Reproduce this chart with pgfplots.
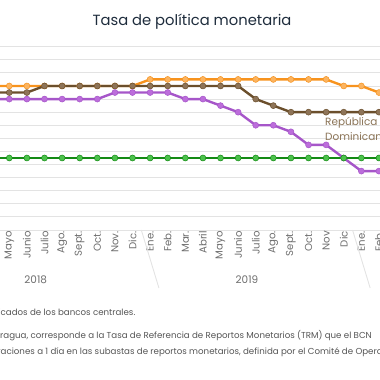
\documentclass[border=0pt]{standalone}
\usepackage{fontspec}
\setmainfont{Poppins}
\usepackage{pgfplots}
\pgfplotsset{compat=1.18}
\definecolor{orangeL}{HTML}{F7931E}
\definecolor{orangeM}{HTML}{FBB461}
\definecolor{brownL}{HTML}{6B4F2C}
\definecolor{brownM}{HTML}{8E7458}
\definecolor{purpleL}{HTML}{A656C9}
\definecolor{purpleM}{HTML}{BC6DDB}
\definecolor{greenL}{HTML}{138A14}
\definecolor{greenM}{HTML}{4CC24C}
\definecolor{gridc}{HTML}{E3E3E3}
\definecolor{titlec}{HTML}{1E2C3C}
\definecolor{tickc}{HTML}{6E6E6E}
\definecolor{notec}{HTML}{555555}
\definecolor{labbrown}{HTML}{8A7356}

% index: -1 = Abril 2018, 0 = Mayo 2018, ..., 21 = Feb 2020
\pgfplotstableread{
x y
-1 5.5
0 5.5
1 5.5
2 5.5
3 5.5
4 5.5
5 5.5
6 5.5
7 5.5
8 5.75
9 5.75
10 5.75
11 5.75
12 5.75
13 5.75
14 5.75
15 5.75
16 5.75
17 5.75
18 5.75
19 5.5
20 5.5
21 5.25
}\honduras
\pgfplotstableread{
x y
-1 5.25
0 5.25
1 5.25
2 5.5
3 5.5
4 5.5
5 5.5
6 5.5
7 5.5
8 5.5
9 5.5
10 5.5
11 5.5
12 5.5
13 5.5
14 5.0
15 4.75
16 4.5
17 4.5
18 4.5
19 4.5
20 4.5
21 4.5
}\dominicana
\pgfplotstableread{
x y
-1 5.0
0 5.0
1 5.0
2 5.0
3 5.0
4 5.0
5 5.0
6 5.25
7 5.25
8 5.25
9 5.25
10 5.0
11 5.0
12 4.75
13 4.5
14 4.0
15 4.0
16 3.75
17 3.25
18 3.25
19 2.75
20 2.25
21 2.25
}\costarica
\pgfplotstableread{
x y
-1 2.75
0 2.75
1 2.75
2 2.75
3 2.75
4 2.75
5 2.75
6 2.75
7 2.75
8 2.75
9 2.75
10 2.75
11 2.75
12 2.75
13 2.75
14 2.75
15 2.75
16 2.75
17 2.75
18 2.75
19 2.75
20 2.75
21 2.75
}\guatemala

\begin{document}
\begin{tikzpicture}
\path[use as bounding box] (0,0) rectangle (380bp,380bp);
\clip (0,0) rectangle (380bp,380bp);
\begin{axis}[
  at={(0bp,150bp)}, anchor=south west,
  scale only axis, width=380bp, height=183.3bp,
  xmin=-0.528, xmax=21.06, ymin=0, ymax=7,
  clip=false,
  axis line style={draw=none},
  ymajorgrids, grid style={draw=gridc, line width=0.9bp},
  ytick={0,0.5,...,7}, yticklabels={}, ytick style={draw=none},
  xtick={-1,0,...,21},
  xticklabels={Abril,Mayo,Junio,Julio,Ago.,Sept.,Oct.,Nov.,Dic.,Ene.,Feb.,Mar.,Abril,Mayo,Junio,Julio,Ago.,Sept.,Oct.,Nov,Dic,Ene.,Feb.},
  xtick style={draw=none},
  xticklabel style={rotate=90, anchor=east, font=\fontsize{10.2}{11}\selectfont, text=tickc, inner sep=1bp},
  every axis plot/.append style={line width=2.4bp, mark=*, mark size=3bp},
]
\addplot[color=orangeL, mark options={fill=orangeM, draw=orangeL, line width=0.5bp}] table {\honduras};
\addplot[color=brownL, mark options={fill=brownM, draw=brownL, line width=0.5bp}] table {\dominicana};
\addplot[color=purpleL, mark options={fill=purpleM, draw=purpleL, line width=0.5bp}] table {\costarica};
\addplot[color=greenL, mark options={fill=greenM, draw=greenL, line width=0.5bp}] table {\guatemala};
\draw[gridc, line width=0.9bp] (axis cs:7.5,0) -- ++(0,-58bp);
\draw[gridc, line width=0.9bp] (axis cs:19.5,0) -- ++(0,-58bp);
\node[text=tickc, font=\fontsize{10.5}{12}\selectfont] at (axis cs:1.5,0) [yshift=-50bp] {2018};
\node[text=tickc, font=\fontsize{10.5}{12}\selectfont] at (axis cs:13.5,0) [yshift=-50bp] {2019};
\end{axis}
\node[text=titlec, font=\fontsize{14.8}{17}\selectfont] at (192bp,358bp) {Tasa de política monetaria};
\node[text=labbrown, anchor=west, align=left, inner sep=0, font=\fontsize{10.5}{15.7}\selectfont] at (325bp,251bp) {República\\Dominicana};
\node[text=notec, anchor=base west, inner sep=0, font=\fontsize{8.7}{10}\selectfont] at (0.5bp,64.5bp) {\llap{Fuente: con base en datos publi}cados de los bancos centrales.};
\node[text=notec, anchor=base west, inner sep=0, font=\fontsize{8.7}{10}\selectfont] at (0bp,41bp) {\llap{1/ Para Nica}ragua, corresponde a la Tasa de Referencia de Reportos Monetarios (TRM) que el BCN};
\node[text=notec, anchor=base west, inner sep=0, font=\fontsize{8.7}{10}\selectfont] at (0.5bp,26bp) {\llap{utiliza para sus oper}aciones a 1 día en las subastas de reportos monetarios, definida por el Comité de Operaciones};
\end{tikzpicture}
\end{document}
